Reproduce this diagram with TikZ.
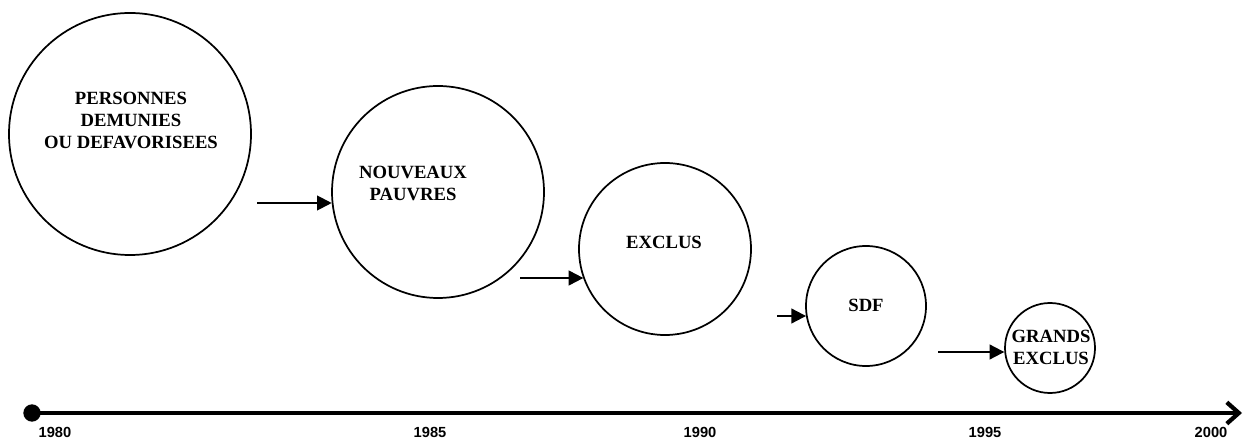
\documentclass[tikz,border=0pt]{standalone}
\usepackage{fontspec}
\setmainfont{Liberation Serif}
\setsansfont{Liberation Sans}
\usetikzlibrary{arrows.meta}

\begin{document}
\begin{tikzpicture}
    [x=0.75pt,y=-0.75pt,
    bubble/.style={circle,draw,black,line width=1.3pt,inner sep=0pt},
    words/.style={align=center,font=\bfseries\fontsize{14}{16.5}\selectfont},
    flow/.style={-{Triangle[length=11pt,width=11pt]},black,line width=1.5pt},
    axis/.style={-{Straight Barb[length=9pt,width=16pt]},black,line width=3.2pt},
    dot/.style={circle,fill=black,inner sep=0pt,minimum size=13pt},
    year/.style={font=\sffamily\bfseries\fontsize{11}{13}\selectfont}]

\useasboundingbox (0,0) rectangle (1248,441);

%draw the circles
\node[bubble,minimum size=181.5pt] (c1) at (130,134) {};
\node[bubble,minimum size=159pt] (c2) at (438,192) {};
\node[bubble,minimum size=129pt] (c3) at (665,249) {};
\node[bubble,minimum size=90pt] (c4) at (866,306) {};
\node[bubble,minimum size=67.5pt] (c5) at (1050,348) {};

%texts inside
\node[words] (w1) at (131,120) {PERSONNES\\DEMUNIES\\OU DEFAVORISEES};
\node[words] (w2) at (413,183) {NOUVEAUX\\PAUVRES};
\node[words] (w3) at (664,242) {EXCLUS};
\node[words] (w4) at (866,305) {SDF};
\node[words] (w5) at (1051,347) {GRANDS\\EXCLUS};

%arrows between circles
\coordinate (s1) at (257,203);
\coordinate (s2) at (520,278);
\coordinate (s3) at (777,316);
\coordinate (s4) at (938,352);
\draw[flow] (s1) -- (s1 -| c2.186);
\draw[flow] (s2) -- (s2 -| c3.200);
\draw[flow] (s3) -- (s3 -| c4.190);
\draw[flow] (s4) -- (s4 -| c5.185);

%draw time axis
\node[dot] (t0) at (32,413) {};
\coordinate (tend) at (1242,413);
\draw[axis] (t0.center) -- (tend);

\node[year] (y1980) at (55,432) {1980};
\node[year] (y1985) at (430,432) {1985};
\node[year] (y1990) at (700,432) {1990};
\node[year] (y1995) at (985,432) {1995};
\node[year] (y2000) at (1211,432) {2000};

\end{tikzpicture}
\end{document}
